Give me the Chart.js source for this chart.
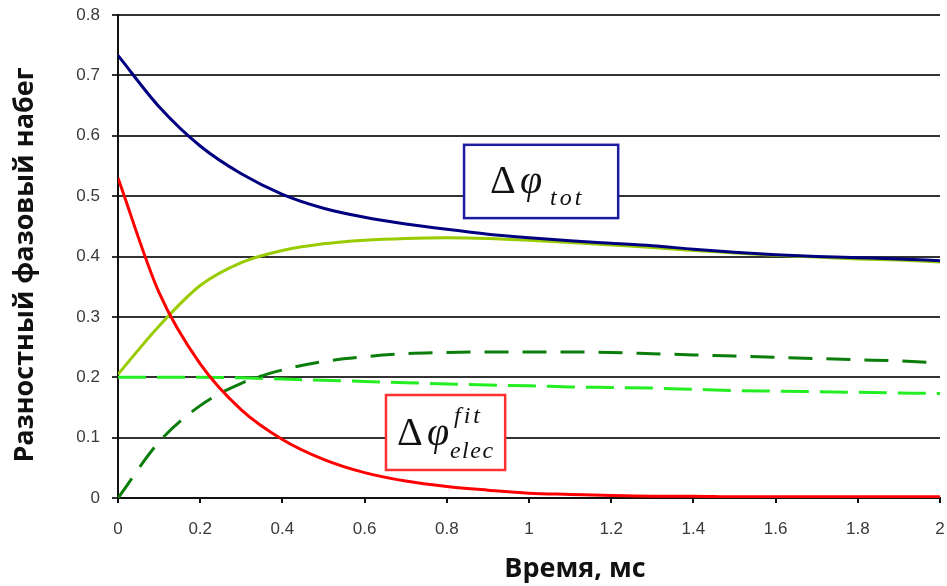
<!DOCTYPE html>
<html>
<head>
<meta charset="utf-8">
<script src="https://cdn.jsdelivr.net/npm/chart.js@4/dist/chart.umd.min.js"></script>
<style>
body { margin: 0; background: #fff; }
#caixa { width: 947px; height: 586px; }
</style>
</head>
<body>
<div id="caixa"><canvas id="grafico"></canvas></div>
<script>
// время, мс
const tempo = [0, 0.1, 0.2, 0.3, 0.4, 0.5, 0.6, 0.7, 0.8, 0.9, 1, 1.1, 1.2, 1.3, 1.4, 1.5, 1.6, 1.7, 1.8, 1.9, 2]

const faseTotal = [0.733, 0.648, 0.583, 0.537, 0.503, 0.480, 0.465, 0.454, 0.445, 0.437, 0.431, 0.426, 0.422, 0.418, 0.412, 0.407, 0.403, 0.400, 0.398, 0.396, 0.393]
const faseElec = [0.530, 0.340, 0.222, 0.146, 0.097, 0.064, 0.042, 0.028, 0.019, 0.013, 0.008, 0.006, 0.004, 0.003, 0.003, 0.002, 0.002, 0.002, 0.002, 0.002, 0.002]
const faseSoma = [0.205, 0.285, 0.352, 0.390, 0.410, 0.421, 0.427, 0.430, 0.431, 0.430, 0.427, 0.423, 0.419, 0.415, 0.410, 0.406, 0.402, 0.399, 0.396, 0.394, 0.391]
const faseEscura = [0, 0.093, 0.153, 0.190, 0.212, 0.226, 0.234, 0.239, 0.241, 0.242, 0.242, 0.242, 0.241, 0.239, 0.237, 0.235, 0.233, 0.231, 0.229, 0.227, 0.224]
const faseClara = [0.200, 0.200, 0.200, 0.199, 0.197, 0.195, 0.193, 0.191, 0.189, 0.187, 0.186, 0.184, 0.183, 0.182, 0.180, 0.178, 0.177, 0.176, 0.175, 0.174, 0.173]

const rotulosX = ['0', '0.2', '0.4', '0.6', '0.8', '1', '1.2', '1.4', '1.6', '1.8', '2']
const rotulosY = ['0', '0.1', '0.2', '0.3', '0.4', '0.5', '0.6', '0.7', '0.8']

function pontos(valores) {
    return tempo.map((t, i) => ({ x: t, y: valores[i] }))
}

function serie(valores, cor, tracejado) {
    return {
        data: pontos(valores),
        borderColor: cor,
        borderWidth: 3,
        borderDash: tracejado || [],
        pointRadius: 0,
        cubicInterpolationMode: 'monotone',
        fill: false
    }
}

function caixa(ctx, x0, y0, x1, y1, cor) {
    ctx.fillStyle = '#fff'
    ctx.fillRect(x0, y0, x1 - x0, y1 - y0)
    ctx.strokeStyle = cor
    ctx.lineWidth = 2.5
    ctx.strokeRect(x0, y0, x1 - x0, y1 - y0)
}

function texto(ctx, t, x, y, fonte, esp) {
    ctx.font = fonte
    ctx.letterSpacing = esp || '0px'
    ctx.fillText(t, x, y)
}

const anotacoes = {
    id: 'anotacoes',
    afterDatasetsDraw(chart) {
        const ctx = chart.ctx
        const sx = chart.scales.x
        const sy = chart.scales.y
        ctx.save()
        ctx.textBaseline = 'alphabetic'
        ctx.textAlign = 'left'

        // Δφ_tot
        let l = sx.getPixelForValue(0.842), r = sx.getPixelForValue(1.217)
        let t = sy.getPixelForValue(0.585), b = sy.getPixelForValue(0.4636)
        caixa(ctx, l, t, r, b, '#1c1ca0')
        ctx.fillStyle = '#111'
        texto(ctx, 'Δ', l + 26, t + 48, '40px "Liberation Serif"')
        texto(ctx, 'φ', l + 56, t + 48, 'italic 40px "Liberation Serif"')
        texto(ctx, 'tot', l + 86, t + 60, 'italic 24px "Liberation Serif"', '3px')

        // Δφ_elec^fit
        l = sx.getPixelForValue(0.652); r = sx.getPixelForValue(0.942)
        t = sy.getPixelForValue(0.1706); b = sy.getPixelForValue(0.0464)
        caixa(ctx, l, t, r, b, '#ff3030')
        ctx.fillStyle = '#111'
        texto(ctx, 'Δ', l + 11, t + 50, '40px "Liberation Serif"')
        texto(ctx, 'φ', l + 41, t + 50, 'italic 40px "Liberation Serif"')
        texto(ctx, 'fit', l + 68, t + 28, 'italic 24px "Liberation Serif"', '3px')
        texto(ctx, 'elec', l + 64, t + 63, 'italic 24px "Liberation Serif"', '1.5px')
        ctx.restore()
    },
    afterDraw(chart) {
        const ctx = chart.ctx
        ctx.save()
        ctx.fillStyle = '#111'
        ctx.font = 'bold 27px "Open Sans"'
        ctx.textAlign = 'center'
        ctx.textBaseline = 'middle'
        ctx.fillText('Время, мс', 575, 569)
        ctx.translate(25, 265)
        ctx.rotate(-Math.PI / 2)
        ctx.fillText('Разностный фазовый набег', 0, 0)
        ctx.restore()
    }
}

function graficoFase(canvas) {
    return new Chart(canvas, {
        type: 'line',
        data: {
            datasets: [
                serie(faseTotal, '#000080'),
                serie(faseElec, '#ff0000'),
                serie(faseSoma, '#99cc00'),
                serie(faseEscura, '#0a7d0a', [24, 14]),
                serie(faseClara, '#22ee22', [28, 11])
            ]
        },
        options: {
            responsive: true,
            maintainAspectRatio: false,
            animation: false,
            devicePixelRatio: 1,
            layout: { padding: { top: 15, right: 7, left: 0, bottom: 0 } },
            plugins: { legend: { display: false }, tooltip: { enabled: false } },
            scales: {
                x: {
                    type: 'linear',
                    min: 0,
                    max: 2,
                    afterFit(s) {
                        s.height = 88
                        s.paddingLeft = 0
                        s.paddingRight = 0
                    },
                    ticks: {
                        stepSize: 0.2,
                        maxRotation: 0,
                        padding: 16,
                        color: '#3a3a3a',
                        font: { family: 'Liberation Sans', size: 17 },
                        callback: (v, i) => rotulosX[i]
                    },
                    grid: { drawOnChartArea: false, drawTicks: true, tickLength: 5, color: '#111', lineWidth: 2 },
                    border: { color: '#111', width: 2 }
                },
                y: {
                    min: 0,
                    max: 0.8,
                    afterFit(s) {
                        s.width = 118
                        s.paddingTop = 0
                        s.paddingBottom = 0
                    },
                    ticks: {
                        stepSize: 0.1,
                        padding: 12,
                        color: '#3a3a3a',
                        font: { family: 'Liberation Sans', size: 17 },
                        callback: (v, i) => rotulosY[i]
                    },
                    grid: { color: '#333', lineWidth: 2, tickLength: 6 },
                    border: { color: '#111', width: 2 }
                }
            }
        },
        plugins: [anotacoes]
    })
}

graficoFase(document.getElementById('grafico'))
</script>
</body>
</html>
